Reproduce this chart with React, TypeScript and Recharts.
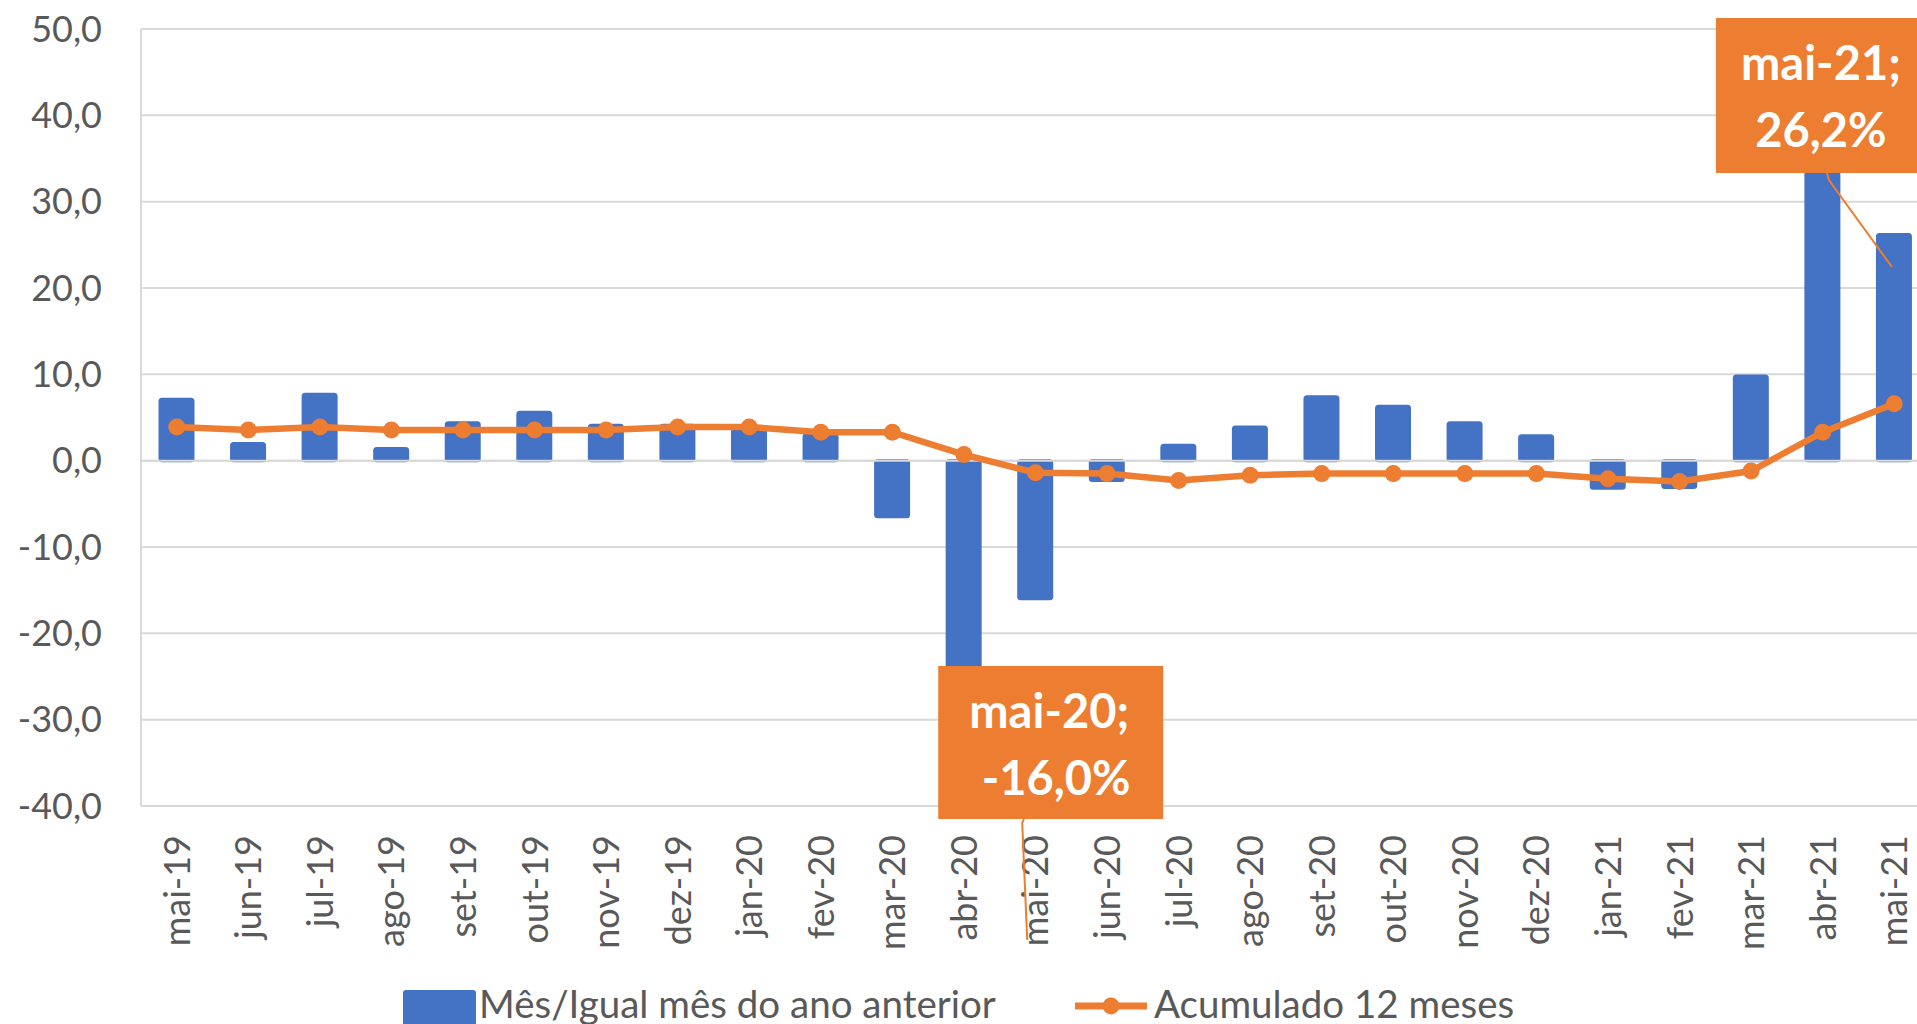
import React from 'react';
import {
  ComposedChart,
  Bar,
  Line,
  XAxis,
  YAxis,
  CartesianGrid,
  ReferenceLine,
  LabelList,
} from 'recharts';

const categories = [
  'mai-19', 'jun-19', 'jul-19', 'ago-19', 'set-19', 'out-19', 'nov-19', 'dez-19',
  'jan-20', 'fev-20', 'mar-20', 'abr-20', 'mai-20', 'jun-20', 'jul-20', 'ago-20',
  'set-20', 'out-20', 'nov-20', 'dez-20', 'jan-21', 'fev-21', 'mar-21', 'abr-21', 'mai-21',
];

// Mês/Igual mês do ano anterior (%)
const mensal = [
  7.1, 2.0, 7.7, 1.4, 4.4, 5.6, 4.1, 4.1,
  3.6, 3.0, -6.5, -27.0, -16.0, -2.3, 1.8, 3.9,
  7.4, 6.3, 4.4, 2.9, -3.2, -3.1, 9.8, 36.0, 26.2,
];

// Acumulado 12 meses (%)
const acumulado = [
  3.9, 3.55, 3.9, 3.55, 3.55, 3.55, 3.55, 3.9,
  3.9, 3.3, 3.3, 0.7, -1.4, -1.5, -2.3, -1.7,
  -1.5, -1.5, -1.5, -1.5, -2.1, -2.4, -1.2, 3.3, 6.6,
];

const yTicks = [-40, -30, -20, -10, 0, 10, 20, 30, 40, 50];

const data = categories.map((cat, i) => ({ cat, mensal: mensal[i], acumulado: acumulado[i] }));

const BLUE = '#4472C4';
const ORANGE = '#ED7D31';
const GREY_TEXT = '#595959';
const GRID = '#d9d9d9';
const FONT = 'Lato, "Open Sans", sans-serif';

const fmt = (v: number) => v.toFixed(1).replace('.', ',');

// callout boxes placed by hand in the original, offsets relative to the bar centre
const notes: Record<number, any> = {
  12: { left: -97, top: 666, w: 225, h: 153, t1: 14, t2: 21, leader: [[-11, 818], [-13, 823], [-8, 940]] },
  24: { left: -178, top: 18, w: 225, h: 155, t1: -73, t2: -73, leader: [[-67, 173], [-65, 180], [-2, 267]] },
};

const XTick = ({ x, y, payload }: any) => (
  <text
    transform={`translate(${x},${y}) rotate(-90)`}
    textAnchor="end"
    dy="0.36em"
    fill={GREY_TEXT}
    fontSize={36}
    fontFamily={FONT}
  >
    {payload.value}
  </text>
);

const Note = (props: any) => {
  const { index, value } = props;
  const n = notes[index];
  if (!n) return null;
  const vb = props.viewBox ?? props;
  const cx = vb.x + vb.width / 2;
  const pts = n.leader.map((p: number[]) => `${cx + p[0]},${p[1]}`).join(' ');
  return (
    <g>
      <rect x={cx + n.left} y={n.top} width={n.w} height={n.h} fill={ORANGE} />
      <polyline points={pts} fill="none" stroke={ORANGE} strokeWidth={2} />
      <text x={cx + n.t1} y={n.top + 62} textAnchor="middle" fill="#fff" fontSize={47} fontWeight={700} fontFamily={FONT}>
        {categories[index]};
      </text>
      <text x={cx + n.t2} y={n.top + 129} textAnchor="middle" fill="#fff" fontSize={47} fontWeight={700} fontFamily={FONT}>
        {fmt(value)}%
      </text>
    </g>
  );
};

export default function App() {
  return (
    <div style={{ position: 'fixed', left: 0, top: 0, width: 1917, height: 1024, overflow: 'hidden', background: '#fff' }}>
      <ComposedChart width={1930} height={1024} data={data} margin={{ top: 29, right: 0, bottom: 0, left: 0 }}>
        <CartesianGrid vertical={false} stroke={GRID} strokeWidth={2} />
        <XAxis
          dataKey="cat"
          interval={0}
          height={218}
          tick={<XTick />}
          tickLine={false}
          axisLine={false}
          tickSize={0}
          tickMargin={29}
        />
        <YAxis
          width={141}
          domain={[-40, 50]}
          ticks={yTicks}
          tickFormatter={fmt}
          tickLine={false}
          tickSize={0}
          tickMargin={39}
          axisLine={{ stroke: GRID, strokeWidth: 2 }}
          tick={{ fill: GREY_TEXT, fontSize: 36, fontFamily: FONT }}
        />
        <Bar dataKey="mensal" fill={BLUE} stroke={BLUE} strokeWidth={3} barSize={33} radius={2} isAnimationActive={false}>
          <LabelList dataKey="mensal" content={<Note />} />
        </Bar>
        <ReferenceLine y={0} stroke={GRID} strokeWidth={2} />
        <Line
          type="linear"
          dataKey="acumulado"
          stroke={ORANGE}
          strokeWidth={6.5}
          dot={{ r: 8.5, fill: ORANGE, stroke: ORANGE, strokeWidth: 0 }}
          activeDot={false}
          isAnimationActive={false}
        />
      </ComposedChart>
      <svg width={1917} height={80} style={{ position: 'absolute', left: 0, top: 944 }}>
        <rect x={403} y={46} width={73} height={60} rx={3} fill={BLUE} />
        <text x={479} y={74} fill={GREY_TEXT} fontSize={38.5} fontFamily={FONT}>Mês/Igual mês do ano anterior</text>
        <line x1={1075} x2={1147} y1={62} y2={62} stroke={ORANGE} strokeWidth={7} />
        <circle cx={1111} cy={62} r={8.5} fill={ORANGE} />
        <text x={1154} y={74} fill={GREY_TEXT} fontSize={38.5} fontFamily={FONT}>Acumulado 12 meses</text>
      </svg>
    </div>
  );
}
